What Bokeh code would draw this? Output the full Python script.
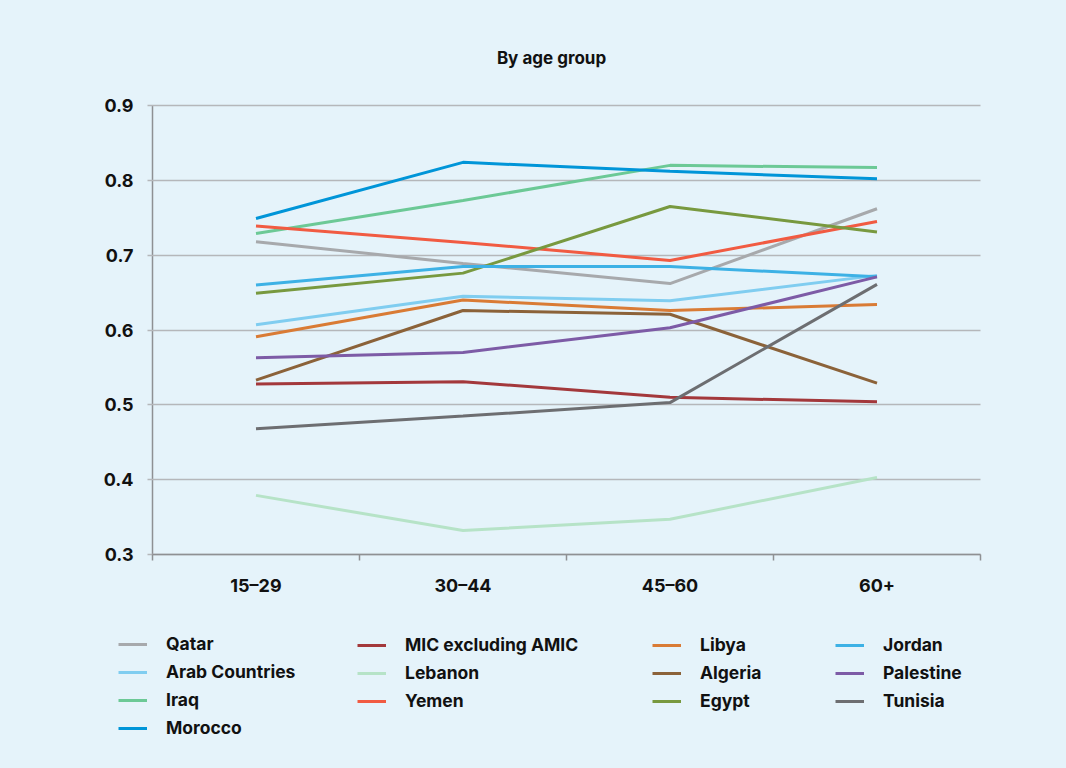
from bokeh.plotting import figure
from bokeh.models import (FixedTicker, PrintfTickFormatter, Legend, LegendItem, Label)
from bokeh.embed import file_html
from bokeh.resources import INLINE

# ---------------- data ----------------
age_groups = ["15–29", "30–44", "45–60", "60+"]

qatar          = [0.718, 0.689, 0.662, 0.762]
arab_countries = [0.607, 0.645, 0.639, 0.673]
iraq           = [0.729, 0.773, 0.820, 0.817]
morocco        = [0.749, 0.824, 0.812, 0.802]
mic_excl_amic  = [0.528, 0.531, 0.510, 0.504]
lebanon        = [0.379, 0.332, 0.347, 0.403]
yemen          = [0.739, 0.717, 0.693, 0.745]
libya          = [0.591, 0.640, 0.626, 0.634]
algeria        = [0.533, 0.626, 0.621, 0.529]
egypt          = [0.649, 0.676, 0.765, 0.731]
jordan         = [0.660, 0.685, 0.685, 0.671]
palestine      = [0.563, 0.570, 0.603, 0.671]
tunisia        = [0.468, 0.485, 0.503, 0.661]

series_names = ["Qatar", "Arab Countries", "Iraq", "Morocco",
                "MIC excluding AMIC", "Lebanon", "Yemen",
                "Libya", "Algeria", "Egypt",
                "Jordan", "Palestine", "Tunisia"]
series_values = [qatar, arab_countries, iraq, morocco,
                 mic_excl_amic, lebanon, yemen,
                 libya, algeria, egypt,
                 jordan, palestine, tunisia]
series_colors = ["#a7a9ac", "#80cdf0", "#6cc996", "#0095d8",
                 "#a3383b", "#b6e3c7", "#f15b42",
                 "#d97b35", "#8b6239", "#78993f",
                 "#3db1e5", "#7d5ba6", "#6d6e71"]
legend_columns = [[0, 1, 2, 3], [4, 5, 6], [7, 8, 9], [10, 11, 12]]

y_ticks = [0.3, 0.4, 0.5, 0.6, 0.7, 0.8, 0.9]
title_text = "By age group"

# ---------------- layout / styling ----------------
BG = "#e5f3fa"
FONT = "Inter"
TXT = "#111111"
GRID = "#b5b7ba"
AXIS = "#8e9093"
LW = 3

W, H = 1066, 768
# pixel box of the plotting area inside the canvas
PX_L, PX_R, PX_T, PX_B = 152, 980, 105, 554
n_cat = len(age_groups)
y_lo, y_hi = y_ticks[0], y_ticks[-1]
ux = (PX_R - PX_L) / n_cat              # px per category
uy = (PX_B - PX_T) / (y_hi - y_lo)      # px per value unit
x_range = (-PX_L / ux, n_cat + (W - PX_R) / ux)
y_range = (y_lo - (H - PX_B) / uy, y_hi + PX_T / uy)

p = figure(width=W, height=H, output_backend="svg", toolbar_location=None,
           x_range=x_range, y_range=y_range, min_border=0)
p.background_fill_color = BG
p.border_fill_color = BG
p.outline_line_color = None

xs = [i + 0.5 for i in range(n_cat)]
renderers = []
for vals, col in zip(series_values, series_colors):
    renderers.append(p.line(xs, vals, line_color=col, line_width=LW))

# x axis: labels at centres, ticks on category boundaries
xa = p.xaxis[0]
xa.fixed_location = y_lo
xa.bounds = (0, n_cat)
xa.ticker = FixedTicker(ticks=xs, minor_ticks=list(range(n_cat + 1)))
xa.major_label_overrides = {x: lab for x, lab in zip(xs, age_groups)}
xa.major_tick_line_color = None
xa.major_tick_out = 0
xa.major_tick_in = 0
xa.minor_tick_line_color = AXIS
xa.minor_tick_line_width = 1.5
xa.minor_tick_out = 6
xa.minor_tick_in = 0
xa.major_label_standoff = 14
p.xgrid.visible = False

# y axis: its major ticks run across the plot area and act as the grid lines
ya = p.yaxis[0]
ya.level = "underlay"
ya.fixed_location = 0
ya.bounds = (y_lo, y_hi)
ya.ticker = FixedTicker(ticks=y_ticks, minor_ticks=[])
ya.formatter = PrintfTickFormatter(format="%.1f")
ya.major_tick_line_color = GRID
ya.major_tick_line_width = 1.5
ya.major_tick_out = 5
ya.major_tick_in = PX_R - PX_L
ya.minor_tick_line_color = None
ya.major_label_standoff = 14
p.ygrid.visible = False

for ax in (xa, ya):
    ax.axis_line_color = AXIS
    ax.axis_line_width = 1.5
    ax.major_label_text_font = FONT
    ax.major_label_text_font_style = "bold"
    ax.major_label_text_font_size = "18px"
    ax.major_label_text_color = TXT

# title
p.add_layout(Label(x=551, y=H - 57, x_units="screen", y_units="screen",
                   text=title_text, text_font=FONT, text_font_style="bold",
                   text_font_size="17px", text_color=TXT,
                   text_align="center", text_baseline="middle"))

# legends: four columns below the plot
col_x = [118, 357, 652, 835]
top_y = 637
for ci, idxs in enumerate(legend_columns):
    items = [LegendItem(label=series_names[i], renderers=[renderers[i]]) for i in idxs]
    n = len(idxs)
    h = n * 20 + (n - 1) * 7
    leg = Legend(items=items, location=(col_x[ci], H - (top_y + h)),
                 glyph_width=29, glyph_height=20, label_height=20,
                 label_standoff=19, spacing=7, padding=0, margin=0,
                 border_line_color=None, background_fill_alpha=0,
                 label_text_font=FONT, label_text_font_style="bold",
                 label_text_font_size="17.5px", label_text_color=TXT)
    p.add_layout(leg, "center")

html = file_html(p, INLINE)
html = html.replace("<head>", "<head><style>html, body {background: %s;}</style>" % BG, 1)
open("out.html", "w").write(html)
